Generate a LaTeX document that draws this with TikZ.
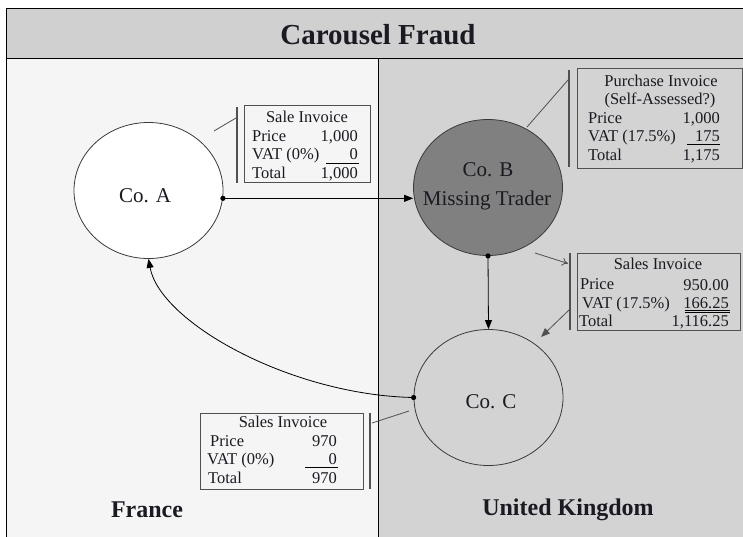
\documentclass[tikz,border=0pt]{standalone}
\usepackage{fontspec}
\setmainfont{Liberation Serif}
\usetikzlibrary{arrows.meta,shapes.geometric}
\definecolor{bandgray}{HTML}{D0D0D0}
\definecolor{ukgray}{HTML}{D3D3D3}
\definecolor{frgray}{HTML}{F5F5F5}
\definecolor{bfill}{HTML}{808080}
\definecolor{edgecol}{HTML}{3A3A3A}
\definecolor{boxcol}{HTML}{505050}
\definecolor{txtcol}{HTML}{1A1A22}
\begin{document}
\begin{tikzpicture}[x=1pt,y=-1pt,
  company/.style={ellipse,draw=edgecol,line width=0.8pt,minimum width=149pt,minimum height=136pt,inner sep=0pt},
  ctext/.style={inner sep=0pt,text=txtcol,font=\fontsize{21}{25}\selectfont},
  invbox/.style={draw=boxcol,line width=1pt,inner sep=0pt},
  ihead/.style={inner sep=0pt,text=txtcol,font=\fontsize{16.5}{18}\selectfont,text height=11pt,text depth=3.5pt},
  ilab/.style={ihead,anchor=west},
  ival/.style={ihead,anchor=east},
  bar/.style={draw=boxcol,line width=1.3pt},
  leader/.style={draw=boxcol,line width=0.8pt},
  flow/.style={draw=black,line width=0.8pt,-{Triangle[length=9pt,width=7pt]}},
  dotmark/.style={fill=black},
  region/.style={text=txtcol,font=\bfseries\fontsize{24}{28}\selectfont}
]
\useasboundingbox (0,0) rectangle (743,536);
\clip (0,0) rectangle (743,536);
\fill[white] (0,0) rectangle (743,536);
% panels
\fill[bandgray] (6,8) rectangle (743,58);
\fill[frgray] (6,58) rectangle (378,540);
\fill[ukgray] (378,58) rectangle (743,540);
\draw[line width=1pt] (6,540) -- (6,8) -- (745,8);
\draw[line width=1pt] (6,58) -- (745,58);
\draw[line width=0.8pt] (378,58) -- (378,540);
\node[text=txtcol,font=\bfseries\fontsize{29}{32}\selectfont] (title) at (378,35) {Carousel Fraud};
\node[region] (fr) at (147,510) {France};
\node[region] (uk) at (568,510) {United Kingdom};

% companies
\node[company,fill=white] (A) at (148.5,190.5) {};
\node[company,fill=bfill] (B) at (488,187.5) {};
\node[company] (C) at (488.5,397.5) {};
\node[ctext] (Atext) at (145,196) {Co. A};
\node[ctext] (Btext1) at (488,170) {Co. B};
\node[ctext] (Btext2) at (487,200) {Missing Trader};
\node[ctext] (Ctext) at (491,402) {Co. C};

% flows
\draw[flow] (A.-6) -- (A.-6 -| B.west);
\fill[dotmark] (A.-6) circle (2.6pt);
\draw[flow] (B.south) -- (C.north);
\fill[dotmark] (B.south) circle (2.6pt);
\draw[flow] (C.west) .. controls (290,395) and (160,322) .. (A.south);
\fill[dotmark] (C.west) circle (2.6pt);

% Sale Invoice (France, Co. A)
\node[invbox,minimum width=126pt,minimum height=77pt] (inv1) at (307,143.5) {};
\draw[bar] (237,107) -- (237,183);
\coordinate (l1a) at (214,131);
\coordinate (l1b) at (236,118);
\draw[leader] (l1a) -- (l1b);
\node[ihead] (inv1h) at (307,119) {Sale Invoice};
\node[ilab] (inv1p) at (252,138) {Price};
\node[ival] (inv1pv) at (358,138) {1,000};
\node[ilab] (inv1v) at (252,156) {VAT (0\%)};
\node[ival] (inv1vv) at (358,156) {0};
\draw[line width=0.8pt] (326,163.5) -- (359,163.5);
\node[ilab] (inv1t) at (252,175) {Total};
\node[ival] (inv1tv) at (358,175) {1,000};

% Purchase Invoice (Co. B)
\node[invbox,minimum width=165pt,minimum height=100pt] (inv2) at (659.5,118) {};
\draw[bar] (569,70) -- (569,167);
\coordinate (l2a) at (527,127);
\coordinate (l2b) at (568,80);
\draw[leader] (l2a) -- (l2b);
\node[ihead] (inv2h) at (661,83) {Purchase Invoice};
\node[ihead] (inv2s) at (660,101) {(Self-Assessed?)};
\node[ilab] (inv2p) at (588,120) {Price};
\node[ival] (inv2pv) at (720,120) {1,000};
\node[ilab] (inv2v) at (588,138) {VAT (17.5\%)};
\node[ival] (inv2vv) at (720,138) {175};
\draw[line width=0.8pt] (687,144.5) -- (720,144.5);
\node[ilab] (inv2t) at (588,157) {Total};
\node[ival] (inv2tv) at (720,157) {1,175};

% Sales Invoice (UK, Co. B to Co. C)
\node[invbox,minimum width=163pt,minimum height=77pt] (inv3) at (658.5,291.5) {};
\draw[bar] (570,253) -- (570,330);
\coordinate (l3a) at (535,253);
\coordinate (l3b) at (568,263.5);
\draw[leader,-{To[length=6pt,width=8pt]}] (l3a) -- (l3b);
\coordinate (l3c) at (569,310);
\coordinate (l3d) at (541,337);
\draw[leader,-{Triangle[length=9pt,width=7pt]}] (l3c) -- (l3d);
\node[ihead] (inv3h) at (658,266) {Sales Invoice};
\node[ilab] (inv3p) at (580,286) {Price};
\node[ival] (inv3pv) at (729,287) {950.00};
\node[ilab] (inv3v) at (582,304.5) {VAT (17.5\%)};
\node[ival] (inv3vv) at (729,304.5) {166.25};
\draw[line width=0.7pt] (685,310.5) -- (730,310.5);
\draw[line width=0.7pt] (685,312.5) -- (730,312.5);
\node[ilab] (inv3t) at (579,323) {Total};
\node[ival] (inv3tv) at (729,323) {1,116.25};

% Sales Invoice (France, Co. C to Co. A)
\node[invbox,minimum width=163pt,minimum height=76pt] (inv4) at (281.5,451) {};
\draw[bar] (370,413) -- (370,489);
\coordinate (l4a) at (372,423);
\coordinate (l4b) at (409,411);
\draw[leader] (l4a) -- (l4b);
\node[ihead] (inv4h) at (283,424) {Sales Invoice};
\node[ilab] (inv4p) at (210,443) {Price};
\node[ival] (inv4pv) at (337,443) {970};
\node[ilab] (inv4v) at (207,461) {VAT (0\%)};
\node[ival] (inv4vv) at (337,461) {0};
\draw[line width=0.8pt] (305,467.5) -- (338,467.5);
\node[ilab] (inv4t) at (208,480) {Total};
\node[ival] (inv4tv) at (337,480) {970};
\end{tikzpicture}
\end{document}
